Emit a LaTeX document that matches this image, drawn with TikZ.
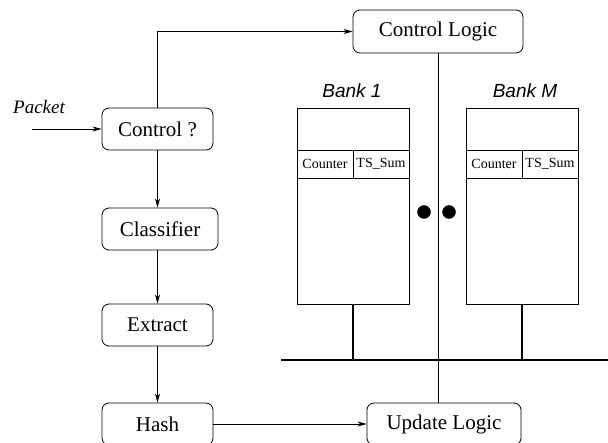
\documentclass[tikz,border=0pt]{standalone}
\usepackage{fontspec}
\setmainfont{Liberation Serif}
\setsansfont{Liberation Sans}
\usetikzlibrary{arrows}
\usetikzlibrary{arrows.meta}
\usetikzlibrary{calc}
\tikzset{blk/.style={draw=black,rounded corners=7pt,line width=0.8pt,inner sep=0pt,minimum height=42pt,font=\fontsize{21}{24}\selectfont}}
\tikzset{bank/.style={draw=black,line width=0.8pt,minimum width=112pt,minimum height=196pt,inner sep=0pt}}
\tikzset{cell/.style={draw=black,line width=0.8pt,minimum width=56pt,minimum height=28pt,inner sep=0pt,font=\fontsize{14}{16}\selectfont}}
\tikzset{fdot/.style={circle,draw=black,fill=black,inner sep=0pt,minimum size=13pt}}
\tikzset{line/.style={black,>={Stealth[length=9pt,width=5pt,inset=2.5pt]},line width=0.8pt}}
\tikzset{bus/.style={black,line width=1.8pt}}
\tikzset{lbl/.style={font=\sffamily\itshape\fontsize{19}{22}\selectfont}}
\begin{document}
\begin{tikzpicture}[x=1pt,y=-1pt]
        \clip (0,0) rectangle (608,443);
        % processing chain
        \node[font=\itshape\fontsize{19}{22}\selectfont] (pkt) at (39,107) {Packet};
        \coordinate (pin) at (32,129);
        \node[blk,minimum width=111pt] (ctrl) at (157.5,129) {Control ?};
        \node[blk,minimum width=116pt] (clas) at (160,229) {Classifier};
        \node[blk,minimum width=111pt] (extr) at (157.5,325) {Extract};
        \node[blk,minimum width=111pt] (hash) at (157.5,424) {Hash};
        \node[blk,minimum width=170pt,minimum height=43pt] (clogic) at (438,31.5) {Control Logic};
        \node[blk,minimum width=154pt] (update) at (444,424) {Update Logic};
        % banks
        \node[bank] (bank1) at (353,206) {};
        \node[bank] (bankM) at (522,206) {};
        \node[cell] (cnt1) at (325,164) {Counter};
        \node[cell] (ts1) at (381,164) {TS\_Sum};
        \node[cell] (cntM) at (494,164) {Counter};
        \node[cell] (tsM) at (550,164) {TS\_Sum};
        \node[lbl] (lbl1) at (352,91) {Bank 1};
        \node[lbl] (lblM) at (525,91) {Bank M};
        \node[fdot] (d1) at (424,212) {};
        \node[fdot] (d2) at (449,212) {};
        \coordinate (busl) at (281,360);
        \coordinate (busr) at (608,360);
        % connectors
        \draw[line,->] (pin) -- (ctrl);
        \draw[line,->] (ctrl.north) -- (ctrl.north |- clogic.west) -- (clogic.west);
        \draw[line,->] (ctrl) -- (ctrl |- clas.north);
        \draw[line,->] (ctrl |- clas.south) -- (extr);
        \draw[line,->] (extr) -- (hash);
        \draw[line,->] (hash) -- (update);
        \draw[line] (clogic) -- (clogic |- update.north);
        \draw[bus] (busl) -- (busr);
        \draw[bus] (bank1.south) -- (bank1.south |- busl);
        \draw[bus] (bankM.south) -- (bankM.south |- busl);
      \end{tikzpicture}
\end{document}
